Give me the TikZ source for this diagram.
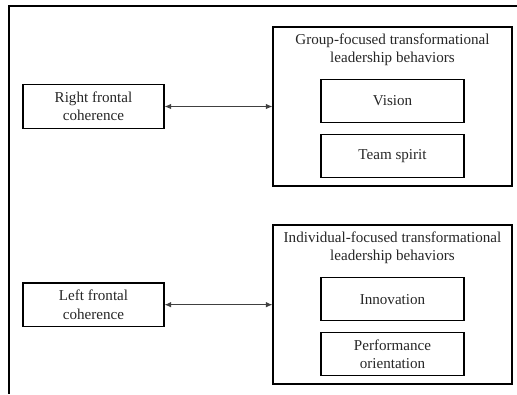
\documentclass[tikz,border=0pt]{standalone}
\usepackage{fontspec}
\setmainfont{Liberation Serif}
\usetikzlibrary{arrows.meta,positioning}

\begin{document}
\begin{tikzpicture}[x=1pt,y=-1pt,
every node/.style={
        font=\fontsize{15.1}{18.5}\selectfont, text=black!85
    },
    EEG/.style = {rectangle, draw, line width=1.1pt, align=center,
                 minimum width=141pt, minimum height=43.5pt, inner sep=0pt},
    TLB/.style = {rectangle, draw, line width=1.1pt,
                 minimum width=239pt, minimum height=159pt, inner sep=0pt},
    SUB/.style = {rectangle, draw, line width=1.1pt, align=center,
                 minimum width=143pt, minimum height=43pt, inner sep=0pt},
    TTL/.style = {align=center, inner sep=0pt},
    link/.style = {line width=1pt, black!75, {Latex[length=6.5pt,width=5.5pt]}-{Latex[length=6.5pt,width=5.5pt]}}
    ]
\useasboundingbox (0,0) rectangle (517,394);
% cropped outer frame
\draw[line width=1.2pt] (517,6) -- (9,6) -- (9,394);

% group-focused behaviors
\node (Group)    [TLB] at (392.5,106.5) {};
\node (GroupT)   [TTL] at (392.5,50)   {Group-focused transformational\\leadership behaviors};
\node (Vision)   [SUB] at (392.5,100.8) {Vision};
\node (Team)     [SUB] at (392.5,155.8) {Team spirit};

% individual-focused behaviors
\node (Indiv)    [TLB] at (392.5,304.5) {};
\node (IndivT)   [TTL] at (392.5,248)   {Individual-focused transformational\\leadership behaviors};
\node (Innov)    [SUB] at (392.5,299.2) {Innovation};
\node (Perf)     [SUB] at (392.5,354.2) {Performance\\orientation};

% frontal coherence
\node (Right)    [EEG] at (93.5,106.5)  {Right frontal\\coherence};
\node (Left)     [EEG] at (93.5,304.7)  {Left frontal\\coherence};

\path[link]
    (Right.east) edge (Right.east -| Group.west)
    (Left.east)  edge (Left.east -| Indiv.west);
\end{tikzpicture}
\end{document}
